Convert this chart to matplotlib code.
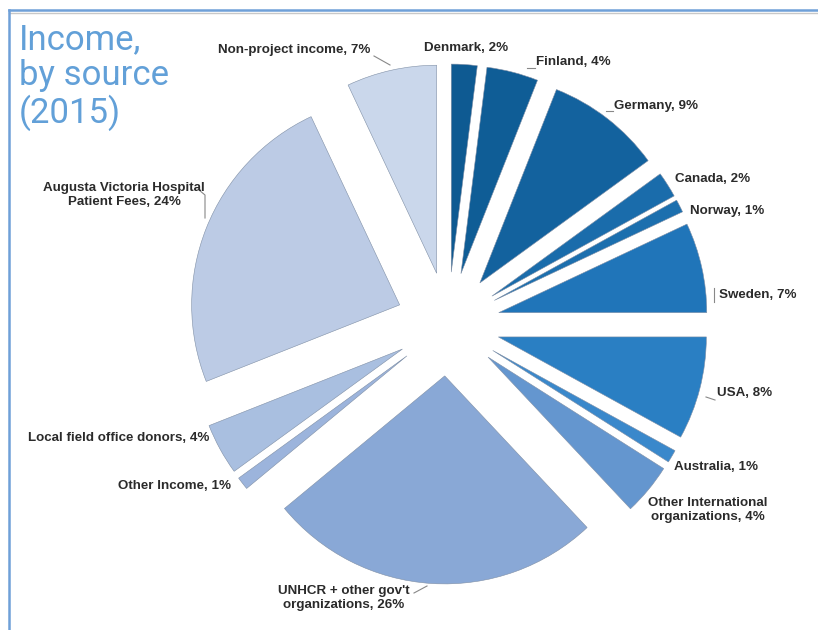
import matplotlib.pyplot as plt
import numpy as np

# slices, clockwise from 12 o'clock
sources = ['Denmark', 'Finland', 'Germany', 'Canada', 'Norway', 'Sweden', 'USA',
           'Australia', 'Other International organizations',
           'UNHCR + other gov\'t organizations', 'Other Income',
           'Local field office donors', 'Augusta Victoria Hospital Patient Fees',
           'Non-project income']
shares = [2, 4, 9, 2, 1, 7, 8, 1, 4, 26, 1, 4, 24, 7]
colors = ['#0e5a92', '#0f5d96', '#13629e', '#1a6cab', '#1c6fae', '#2075b9',
          '#2a7fc3', '#3a88cb', '#6496cf', '#89a8d6', '#9cb4dc', '#a9bfe0',
          '#bccbe5', '#cad7eb']

# label text and where it sits (image pixels: x, y, alignment)
label_text = ['Denmark, 2%', 'Finland, 4%', 'Germany, 9%', 'Canada, 2%',
              'Norway, 1%', 'Sweden, 7%', 'USA, 8%', 'Australia, 1%',
              'Other International\norganizations, 4%',
              'UNHCR + other gov\'t\norganizations, 26%', 'Other Income, 1%',
              'Local field office donors, 4%',
              'Augusta Victoria Hospital\nPatient Fees, 24%',
              'Non-project income, 7%']
label_pos = [(424, 48, 'left'), (536, 62, 'left'), (614, 106, 'left'),
             (675, 179, 'left'), (690, 211, 'left'), (719, 295, 'left'),
             (717, 393, 'left'), (674, 467, 'left'), (708, 510, 'center'),
             (344, 598, 'center'), (175, 486, 'center'), (28, 438, 'left'),
             (124, 195, 'center'), (218, 50, 'left')]

W, H = 818, 630
fig = plt.figure(figsize=(W / 100, H / 100), dpi=100)
ax = fig.add_axes([0, 0, 1, 1])

R = 208
ax.pie(shares, colors=colors, startangle=90, counterclock=False,
       center=(448, H - 324), radius=R, explode=[0.25 * R] * len(shares),
       wedgeprops=dict(edgecolor='#7f8fa6', linewidth=0.4), frame=True)
ax.set_xlim(0, W)
ax.set_ylim(0, H)
ax.set_aspect('equal')
ax.axis('off')

lab_font = ['Liberation Sans', 'DejaVu Sans']
for txt, (x, y, ha) in zip(label_text, label_pos):
    ax.text(x, H - y, txt, ha=ha, va='center', family=lab_font,
            fontweight='bold', fontsize=9.6, color='#2b2b2b', linespacing=1.2)

# small leader lines
leaders = [
    [(374, 56), (390, 65)],
    [(527, 68), (535, 68)],
    [(606, 111), (613, 111)],
    [(714, 288), (714, 302)],
    [(706, 397), (715, 400)],
    [(199, 190), (205, 195), (205, 218)],
    [(414, 593), (427, 586)],
]
for pts in leaders:
    xs = [p[0] for p in pts]
    ys = [H - p[1] for p in pts]
    ax.plot(xs, ys, color='#888888', lw=0.8)

# title
ax.text(19, H - 23, 'Income,\nby source\n(2015)', ha='left', va='top',
        family=['Roboto', 'DejaVu Sans'], fontweight='normal', fontsize=25,
        color='#62a0d8', linespacing=1.1)

# frame lines
ax.plot([9, W], [H - 10, H - 10], color='#6fa0d8', lw=1.8)
ax.plot([9, W], [H - 13, H - 13], color='#c8c8c8', lw=1.0)
ax.plot([9, 9], [H - 10, 0], color='#6fa0d8', lw=1.8)

fig.savefig('out.png', dpi=100)
